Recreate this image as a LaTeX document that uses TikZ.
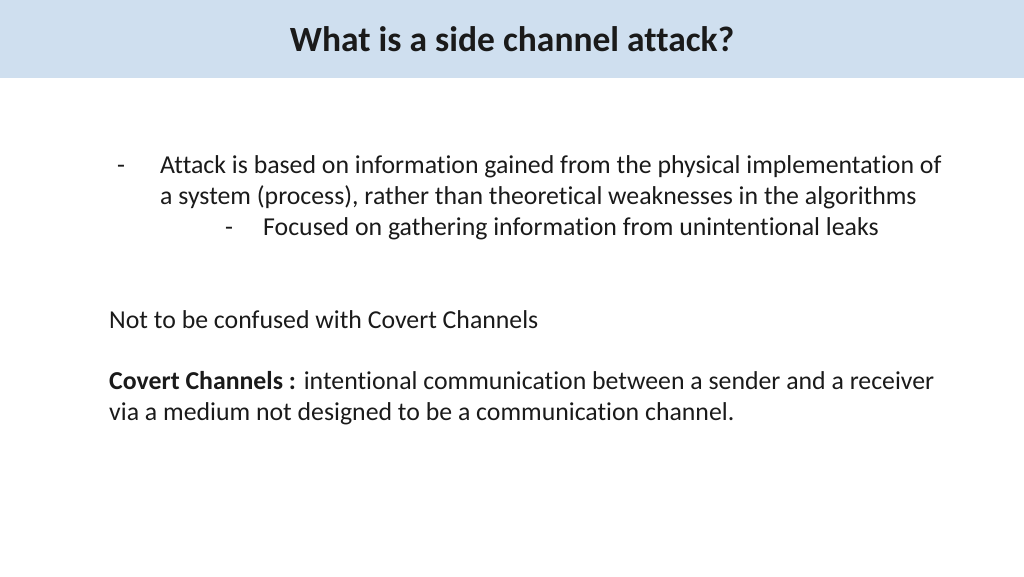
\documentclass[tikz,border=0pt]{standalone}
\usepackage{fontspec}
\setmainfont[Ligatures={NoCommon}]{Carlito}
\definecolor{band}{HTML}{CFDFEF}
\definecolor{txt}{HTML}{1A1A1A}
\begin{document}
\begin{tikzpicture}[x=1pt,y=-1pt,
  body/.style={anchor=base west,inner sep=0pt,font=\fontsize{25.8}{30}\selectfont,text=txt}]
\useasboundingbox (0,0) rectangle (1024,576);
\fill[band] (0,0) rectangle (1024,78);
\node[inner sep=0pt,anchor=base,font=\bfseries\fontsize{35.5}{40}\selectfont,text=txt] (title) at (512,51) {What is a side channel attack?};
\node[body] (d1) at (117,173) {-};
\node[body] (l1) at (160,173) {Attack is based on information gained from the physical implementation of};
\node[body] (l2) at (160,204) {a system (process), rather than theoretical weaknesses in the algorithms};
\node[body] (d2) at (225,235) {-};
\node[body] (l3) at (263,235) {Focused on gathering information from unintentional leaks};
\node[body] (n1) at (109,328) {Not to be confused with Covert Channels};
\node[body] (c1) at (109,389) {\textbf{Covert Channels :} intentional communication between a sender and a receiver};
\node[body] (c2) at (109,420) {via a medium not designed to be a communication channel.};
\end{tikzpicture}
\end{document}
